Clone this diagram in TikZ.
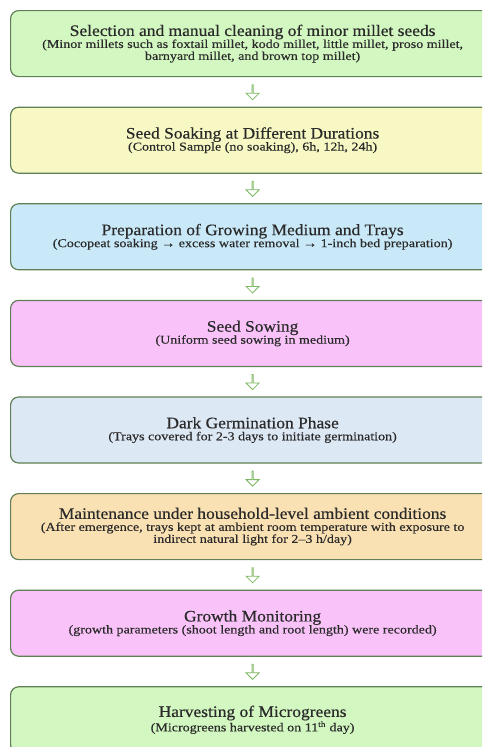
\documentclass[tikz,border=0pt]{standalone}
\usepackage{fontspec}
\setmainfont{Liberation Serif}
\newfontfamily\widetitle[FakeStretch=1.09,FakeBold=0.4]{Liberation Serif}
\newfontfamily\widenote[FakeStretch=1.17,FakeBold=0.3]{Liberation Serif}
\usetikzlibrary{positioning}
\usetikzlibrary{shapes.arrows}

\definecolor{boxline}{HTML}{5F7F55}
\definecolor{arrowline}{HTML}{7DB862}
\definecolor{textgrey}{HTML}{2A2A2A}
\definecolor{fillgreen}{HTML}{D3F7C1}
\definecolor{fillyellow}{HTML}{F7F8C4}
\definecolor{fillblue}{HTML}{C9E9F8}
\definecolor{fillpink}{HTML}{F9C3F9}
\definecolor{fillsky}{HTML}{DDE8F5}
\definecolor{fillorange}{HTML}{FAE1B3}

\newcommand{\steptitle}{\widetitle\fontsize{16}{18}\selectfont}
\newcommand{\stepnote}{\widenote\fontsize{12}{13}\selectfont}

\begin{document}
\begin{tikzpicture}[x=1pt,y=1pt,
		stagebox/.style={draw=boxline, line width=1.2pt, rounded corners=8pt,
			minimum width=484pt, minimum height=66pt, align=center, inner sep=0pt,
			text=textgrey},
		downarrow/.style={single arrow, draw=arrowline, line width=0.8pt, fill=white,
			shape border rotate=270, minimum height=15pt, minimum width=13pt,
			single arrow head extend=3.5pt, inner sep=0pt},
		node distance=29.4pt]
		
		% page frame
		\clip (0,0) rectangle (482,-747);
		
		% draw the stages
		\node[stagebox, fill=fillgreen, anchor=north west] (s1) at (10,-10)
		{{\steptitle Selection and manual cleaning of minor millet seeds}\\
			{\stepnote (Minor millets such as foxtail millet, kodo millet, little millet, proso millet,}\\
			{\stepnote barnyard millet, and brown top millet)}};
		\node[stagebox, fill=fillyellow, below=of s1] (s2)
		{{\steptitle Seed Soaking at Different Durations}\\
			{\stepnote (Control Sample (no soaking), 6h, 12h, 24h)}};
		\node[stagebox, fill=fillblue, below=of s2] (s3)
		{{\steptitle Preparation of Growing Medium and Trays}\\
			{\stepnote (Cocopeat soaking → excess water removal → 1-inch bed preparation)}};
		\node[stagebox, fill=fillpink, below=of s3] (s4)
		{{\steptitle Seed Sowing}\\
			{\stepnote (Uniform seed sowing in medium)}};
		\node[stagebox, fill=fillsky, below=of s4] (s5)
		{{\steptitle Dark Germination Phase}\\
			{\stepnote (Trays covered for 2-3 days to initiate germination)}};
		\node[stagebox, fill=fillorange, below=of s5] (s6)
		{{\steptitle Maintenance under household-level ambient conditions}\\
			{\stepnote (After emergence, trays kept at ambient room temperature with exposure to}\\
			{\stepnote indirect natural light for 2–3 h/day)}};
		\node[stagebox, fill=fillpink, below=of s6] (s7)
		{{\steptitle Growth Monitoring}\\
			{\stepnote (growth parameters (shoot length and root length) were recorded)}};
		\node[stagebox, fill=fillgreen, below=of s7] (s8)
		{{\steptitle Harvesting of Microgreens}\\
			{\stepnote (Microgreens harvested on 11\textsuperscript{th} day)}};
		
		% draw the arrows
		\foreach \a/\b in {s1/s2,s2/s3,s3/s4,s4/s5,s5/s6,s6/s7,s7/s8}
		\path (\a.south) -- (\b.north) node[midway, downarrow] {};
		
\end{tikzpicture}
\end{document}
